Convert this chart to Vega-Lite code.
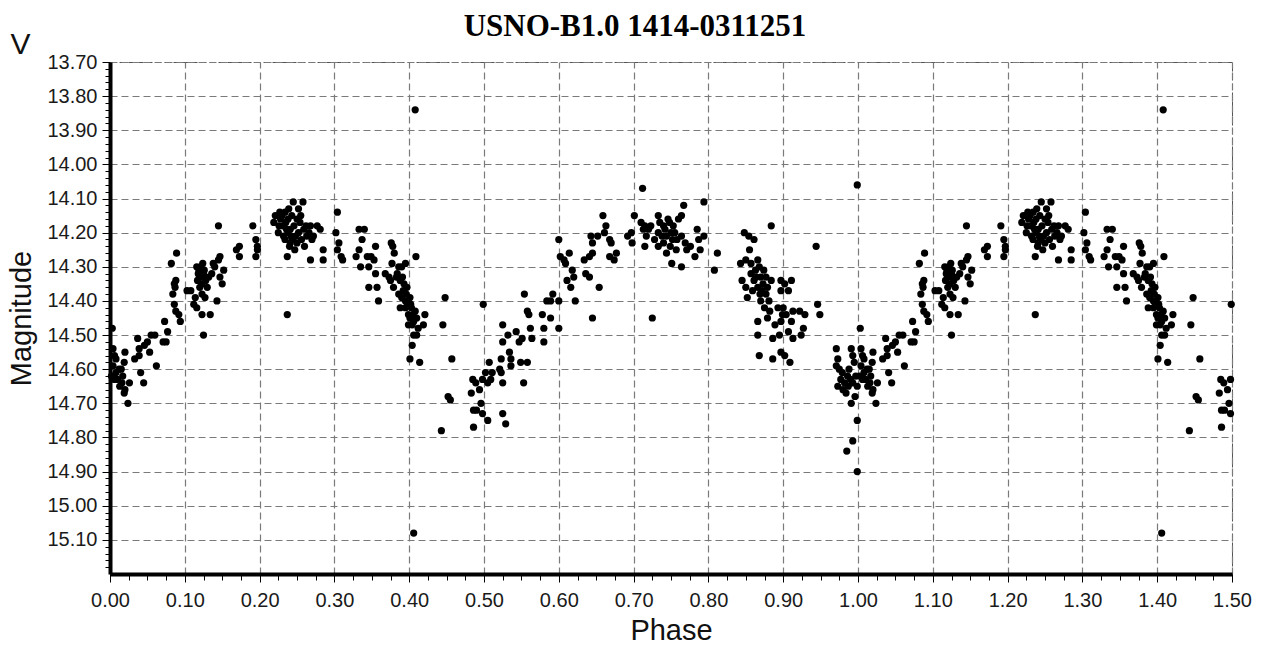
{
"$schema": "https://vega.github.io/schema/vega-lite/v6.json",
"width": 1122, "height": 512,
"autosize": {"type": "none"},
"padding": {"left": 110, "top": 62, "right": 30, "bottom": 74},
"background": "white",
"title": {"text": "USNO-B1.0 1414-0311251", "font": "Liberation Serif", "fontSize": 31, "fontWeight": "bold", "color": "#000", "anchor": "middle", "dx": -36, "dy": 22, "offset": 8},
"config": {"view": {"stroke": "#555", "strokeDash": [6, 3], "strokeWidth": 1}},
"datasets": {"pts": [
{"p":0.003,"m":14.48},{"p":0.004,"m":14.54},{"p":0.006,"m":14.56},{"p":0.004,"m":14.59},{"p":0.008,"m":14.61},{"p":0.006,"m":14.63},{"p":0.010,"m":14.63},{"p":0.015,"m":14.60},{"p":0.017,"m":14.62},{"p":0.019,"m":14.58},{"p":0.020,"m":14.55},{"p":0.020,"m":14.66},{"p":0.019,"m":14.67},{"p":0.024,"m":14.70},{"p":0.013,"m":14.65},{"p":0.026,"m":14.64},{"p":0.033,"m":14.57},{"p":0.037,"m":14.51},{"p":0.039,"m":14.54},{"p":0.039,"m":14.56},{"p":0.041,"m":14.61},{"p":0.045,"m":14.64},{"p":0.046,"m":14.53},{"p":0.050,"m":14.52},{"p":0.053,"m":14.55},{"p":0.055,"m":14.50},{"p":0.060,"m":14.50},{"p":0.062,"m":14.59},{"p":0.071,"m":14.52},{"p":0.075,"m":14.52},{"p":0.073,"m":14.46},{"p":0.077,"m":14.49},{"p":0.082,"m":14.29},{"p":0.089,"m":14.26},{"p":0.084,"m":14.38},{"p":0.086,"m":14.35},{"p":0.088,"m":14.34},{"p":0.086,"m":14.41},{"p":0.088,"m":14.43},{"p":0.092,"m":14.44},{"p":0.094,"m":14.46},{"p":0.087,"m":14.36},{"p":0.008,"m":14.57},{"p":0.012,"m":14.60},{"p":0.016,"m":14.64},{"p":0.002,"m":14.62},
{"p":0.103,"m":14.37},{"p":0.108,"m":14.37},{"p":0.112,"m":14.41},{"p":0.114,"m":14.39},{"p":0.119,"m":14.31},{"p":0.121,"m":14.33},{"p":0.123,"m":14.35},{"p":0.117,"m":14.34},{"p":0.125,"m":14.32},{"p":0.128,"m":14.34},{"p":0.123,"m":14.38},{"p":0.123,"m":14.44},{"p":0.125,"m":14.50},{"p":0.134,"m":14.44},{"p":0.132,"m":14.33},{"p":0.136,"m":14.32},{"p":0.138,"m":14.29},{"p":0.140,"m":14.30},{"p":0.145,"m":14.28},{"p":0.147,"m":14.27},{"p":0.145,"m":14.18},{"p":0.150,"m":14.35},{"p":0.147,"m":14.33},{"p":0.143,"m":14.40},{"p":0.152,"m":14.31},{"p":0.118,"m":14.32},{"p":0.121,"m":14.30},{"p":0.126,"m":14.31},{"p":0.120,"m":14.36},{"p":0.116,"m":14.42},{"p":0.116,"m":14.30},{"p":0.124,"m":14.29},{"p":0.130,"m":14.36},{"p":0.127,"m":14.39},{"p":0.169,"m":14.25},{"p":0.173,"m":14.24},{"p":0.173,"m":14.27},{"p":0.191,"m":14.18},{"p":0.195,"m":14.22},{"p":0.197,"m":14.24},{"p":0.195,"m":14.27},{"p":0.197,"m":14.25},
{"p":0.221,"m":14.15},{"p":0.219,"m":14.17},{"p":0.227,"m":14.14},{"p":0.234,"m":14.14},{"p":0.245,"m":14.11},{"p":0.258,"m":14.11},{"p":0.252,"m":14.13},{"p":0.225,"m":14.20},{"p":0.231,"m":14.18},{"p":0.238,"m":14.16},{"p":0.241,"m":14.19},{"p":0.234,"m":14.22},{"p":0.241,"m":14.23},{"p":0.237,"m":14.27},{"p":0.248,"m":14.21},{"p":0.254,"m":14.17},{"p":0.259,"m":14.19},{"p":0.263,"m":14.21},{"p":0.268,"m":14.18},{"p":0.270,"m":14.22},{"p":0.250,"m":14.23},{"p":0.277,"m":14.18},{"p":0.281,"m":14.19},{"p":0.268,"m":14.28},{"p":0.285,"m":14.25},{"p":0.285,"m":14.28},{"p":0.237,"m":14.44},{"p":0.228,"m":14.16},{"p":0.235,"m":14.17},{"p":0.243,"m":14.15},{"p":0.246,"m":14.18},{"p":0.250,"m":14.16},{"p":0.238,"m":14.20},{"p":0.244,"m":14.22},{"p":0.252,"m":14.20},{"p":0.256,"m":14.22},{"p":0.232,"m":14.21},{"p":0.240,"m":14.24},{"p":0.247,"m":14.25},{"p":0.262,"m":14.18},{"p":0.266,"m":14.20},{"p":0.272,"m":14.21},{"p":0.226,"m":14.18},{"p":0.236,"m":14.19},{"p":0.242,"m":14.21},{"p":0.230,"m":14.15},{"p":0.255,"m":14.15},{"p":0.260,"m":14.24},{"p":0.239,"m":14.13},
{"p":0.304,"m":14.14},{"p":0.302,"m":14.20},{"p":0.306,"m":14.23},{"p":0.304,"m":14.25},{"p":0.309,"m":14.27},{"p":0.311,"m":14.28},{"p":0.333,"m":14.19},{"p":0.340,"m":14.19},{"p":0.337,"m":14.22},{"p":0.329,"m":14.27},{"p":0.333,"m":14.25},{"p":0.335,"m":14.30},{"p":0.344,"m":14.27},{"p":0.349,"m":14.27},{"p":0.353,"m":14.28},{"p":0.355,"m":14.24},{"p":0.346,"m":14.30},{"p":0.355,"m":14.32},{"p":0.346,"m":14.36},{"p":0.357,"m":14.36},{"p":0.359,"m":14.40},{"p":0.376,"m":14.23},{"p":0.378,"m":14.24},{"p":0.380,"m":14.26},{"p":0.368,"m":14.32},{"p":0.373,"m":14.33},{"p":0.375,"m":14.34},{"p":0.379,"m":14.36},{"p":0.386,"m":14.30},{"p":0.390,"m":14.30},{"p":0.395,"m":14.29},{"p":0.409,"m":14.27},{"p":0.388,"m":14.34},{"p":0.393,"m":14.35},{"p":0.386,"m":14.38},{"p":0.390,"m":14.39},{"p":0.395,"m":14.40},{"p":0.401,"m":14.39},{"p":0.388,"m":14.42},{"p":0.395,"m":14.42},{"p":0.403,"m":14.42},{"p":0.401,"m":14.45},{"p":0.406,"m":14.46},{"p":0.410,"m":14.45},{"p":0.404,"m":14.47},{"p":0.412,"m":14.48},{"p":0.421,"m":14.44},{"p":0.419,"m":14.47},{"p":0.406,"m":14.50},{"p":0.404,"m":14.53},{"p":0.401,"m":14.57},{"p":0.414,"m":14.58},{"p":0.383,"m":14.33},{"p":0.392,"m":14.37},{"p":0.398,"m":14.41},{"p":0.399,"m":14.44},{"p":0.408,"m":14.43},{"p":0.397,"m":14.36},{"p":0.377,"m":14.29},{"p":0.384,"m":14.32},{"p":0.391,"m":14.33},{"p":0.396,"m":14.38},{"p":0.402,"m":14.41},{"p":0.405,"m":14.44},{"p":0.399,"m":14.47},{"p":0.410,"m":14.50},{"p":0.408,"m":13.84},{"p":0.406,"m":15.08},
{"p":0.448,"m":14.39},{"p":0.445,"m":14.47},{"p":0.457,"m":14.57},{"p":0.452,"m":14.68},{"p":0.455,"m":14.69},{"p":0.443,"m":14.78},{"p":0.499,"m":14.41},{"p":0.485,"m":14.63},{"p":0.489,"m":14.64},{"p":0.483,"m":14.67},{"p":0.494,"m":14.66},{"p":0.486,"m":14.72},{"p":0.490,"m":14.72},{"p":0.496,"m":14.70},{"p":0.498,"m":14.73},{"p":0.486,"m":14.77},{"p":0.498,"m":14.63},
{"p":0.505,"m":14.75},{"p":0.502,"m":14.61},{"p":0.507,"m":14.58},{"p":0.509,"m":14.63},{"p":0.505,"m":14.64},{"p":0.511,"m":14.61},{"p":0.521,"m":14.60},{"p":0.523,"m":14.61},{"p":0.525,"m":14.64},{"p":0.525,"m":14.73},{"p":0.529,"m":14.76},{"p":0.523,"m":14.57},{"p":0.525,"m":14.52},{"p":0.525,"m":14.47},{"p":0.532,"m":14.50},{"p":0.534,"m":14.55},{"p":0.536,"m":14.57},{"p":0.536,"m":14.59},{"p":0.543,"m":14.49},{"p":0.547,"m":14.52},{"p":0.551,"m":14.51},{"p":0.549,"m":14.58},{"p":0.558,"m":14.58},{"p":0.553,"m":14.64},{"p":0.554,"m":14.38},{"p":0.558,"m":14.43},{"p":0.560,"m":14.44},{"p":0.562,"m":14.48},{"p":0.564,"m":14.51},{"p":0.578,"m":14.44},{"p":0.580,"m":14.48},{"p":0.580,"m":14.52},{"p":0.584,"m":14.40},{"p":0.589,"m":14.40},{"p":0.589,"m":14.45},{"p":0.592,"m":14.38},
{"p":0.600,"m":14.22},{"p":0.602,"m":14.27},{"p":0.607,"m":14.28},{"p":0.614,"m":14.26},{"p":0.609,"m":14.29},{"p":0.618,"m":14.31},{"p":0.611,"m":14.34},{"p":0.616,"m":14.36},{"p":0.620,"m":14.33},{"p":0.600,"m":14.40},{"p":0.622,"m":14.40},{"p":0.600,"m":14.48},{"p":0.634,"m":14.28},{"p":0.641,"m":14.27},{"p":0.645,"m":14.26},{"p":0.636,"m":14.32},{"p":0.641,"m":14.33},{"p":0.654,"m":14.36},{"p":0.645,"m":14.45},{"p":0.643,"m":14.21},{"p":0.645,"m":14.23},{"p":0.652,"m":14.21},{"p":0.659,"m":14.15},{"p":0.661,"m":14.20},{"p":0.663,"m":14.18},{"p":0.668,"m":14.22},{"p":0.670,"m":14.23},{"p":0.668,"m":14.27},{"p":0.674,"m":14.28},{"p":0.677,"m":14.26},
{"p":0.692,"m":14.21},{"p":0.697,"m":14.20},{"p":0.698,"m":14.23},{"p":0.701,"m":14.15},{"p":0.712,"m":14.07},{"p":0.710,"m":14.17},{"p":0.713,"m":14.19},{"p":0.715,"m":14.18},{"p":0.717,"m":14.21},{"p":0.715,"m":14.24},{"p":0.725,"m":14.45},{"p":0.733,"m":14.15},{"p":0.735,"m":14.17},{"p":0.733,"m":14.20},{"p":0.740,"m":14.18},{"p":0.742,"m":14.19},{"p":0.744,"m":14.21},{"p":0.733,"m":14.24},{"p":0.740,"m":14.23},{"p":0.744,"m":14.26},{"p":0.749,"m":14.24},{"p":0.751,"m":14.29},{"p":0.746,"m":14.16},{"p":0.753,"m":14.18},{"p":0.755,"m":14.20},{"p":0.760,"m":14.16},{"p":0.764,"m":14.15},{"p":0.758,"m":14.22},{"p":0.764,"m":14.21},{"p":0.767,"m":14.12},{"p":0.764,"m":14.30},{"p":0.769,"m":14.23},{"p":0.771,"m":14.25},{"p":0.776,"m":14.24},{"p":0.782,"m":14.27},{"p":0.785,"m":14.19},{"p":0.787,"m":14.22},{"p":0.789,"m":14.25},{"p":0.794,"m":14.11},{"p":0.794,"m":14.21},{"p":0.720,"m":14.19},{"p":0.728,"m":14.22},{"p":0.750,"m":14.20},{"p":0.757,"m":14.25},{"p":0.738,"m":14.21},{"p":0.723,"m":14.18},{"p":0.748,"m":14.17},{"p":0.752,"m":14.22},
{"p":0.812,"m":14.26},{"p":0.808,"m":14.31},{"p":0.884,"m":14.18},{"p":0.848,"m":14.20},{"p":0.854,"m":14.21},{"p":0.861,"m":14.22},{"p":0.843,"m":14.29},{"p":0.850,"m":14.28},{"p":0.857,"m":14.29},{"p":0.866,"m":14.28},{"p":0.868,"m":14.30},{"p":0.845,"m":14.34},{"p":0.850,"m":14.36},{"p":0.857,"m":14.32},{"p":0.861,"m":14.34},{"p":0.870,"m":14.33},{"p":0.877,"m":14.33},{"p":0.866,"m":14.36},{"p":0.872,"m":14.37},{"p":0.879,"m":14.36},{"p":0.884,"m":14.34},{"p":0.852,"m":14.39},{"p":0.870,"m":14.40},{"p":0.875,"m":14.42},{"p":0.879,"m":14.45},{"p":0.877,"m":14.38},{"p":0.897,"m":14.34},{"p":0.897,"m":14.37},{"p":0.899,"m":14.44},{"p":0.897,"m":14.46},{"p":0.866,"m":14.46},{"p":0.866,"m":14.50},{"p":0.886,"m":14.51},{"p":0.895,"m":14.50},{"p":0.868,"m":14.56},{"p":0.886,"m":14.57},{"p":0.897,"m":14.55},{"p":0.863,"m":14.31},{"p":0.873,"m":14.35},{"p":0.859,"m":14.37},{"p":0.881,"m":14.40},{"p":0.855,"m":14.25},{"p":0.864,"m":14.33},{"p":0.869,"m":14.38},{"p":0.874,"m":14.31},{"p":0.882,"m":14.43},{"p":0.889,"m":14.47},{"p":0.893,"m":14.42},
{"p":0.902,"m":14.35},{"p":0.911,"m":14.34},{"p":0.907,"m":14.37},{"p":0.900,"m":14.42},{"p":0.904,"m":14.44},{"p":0.913,"m":14.43},{"p":0.922,"m":14.43},{"p":0.929,"m":14.44},{"p":0.911,"m":14.46},{"p":0.907,"m":14.49},{"p":0.913,"m":14.51},{"p":0.927,"m":14.48},{"p":0.924,"m":14.50},{"p":0.902,"m":14.56},{"p":0.909,"m":14.58},{"p":0.944,"m":14.24},{"p":0.946,"m":14.41},{"p":0.949,"m":14.44},{"p":0.999,"m":14.06},{"p":0.971,"m":14.54},{"p":0.973,"m":14.57},{"p":0.971,"m":14.59},{"p":0.975,"m":14.60},{"p":0.973,"m":14.65},{"p":0.977,"m":14.63},{"p":0.980,"m":14.66},{"p":0.984,"m":14.67},{"p":0.986,"m":14.62},{"p":0.988,"m":14.60},{"p":0.991,"m":14.54},{"p":0.993,"m":14.56},{"p":0.995,"m":14.58},{"p":0.982,"m":14.64},{"p":0.991,"m":14.70},{"p":0.999,"m":14.75},{"p":0.993,"m":14.81},{"p":0.985,"m":14.84},{"p":0.999,"m":14.90},{"p":0.993,"m":14.64},{"p":0.997,"m":14.62},{"p":0.999,"m":14.65},{"p":0.979,"m":14.61},{"p":0.987,"m":14.65},{"p":0.996,"m":14.68},{"p":0.990,"m":14.63},
{"p":1.003,"m":14.48},{"p":1.004,"m":14.54},{"p":1.006,"m":14.56},{"p":1.004,"m":14.59},{"p":1.008,"m":14.61},{"p":1.006,"m":14.63},{"p":1.010,"m":14.63},{"p":1.015,"m":14.60},{"p":1.017,"m":14.62},{"p":1.019,"m":14.58},{"p":1.020,"m":14.55},{"p":1.020,"m":14.66},{"p":1.019,"m":14.67},{"p":1.024,"m":14.70},{"p":1.013,"m":14.65},{"p":1.026,"m":14.64},{"p":1.033,"m":14.57},{"p":1.037,"m":14.51},{"p":1.039,"m":14.54},{"p":1.039,"m":14.56},{"p":1.041,"m":14.61},{"p":1.045,"m":14.64},{"p":1.046,"m":14.53},{"p":1.050,"m":14.52},{"p":1.053,"m":14.55},{"p":1.055,"m":14.50},{"p":1.060,"m":14.50},{"p":1.062,"m":14.59},{"p":1.071,"m":14.52},{"p":1.075,"m":14.52},{"p":1.073,"m":14.46},{"p":1.077,"m":14.49},{"p":1.082,"m":14.29},{"p":1.089,"m":14.26},{"p":1.084,"m":14.38},{"p":1.086,"m":14.35},{"p":1.088,"m":14.34},{"p":1.086,"m":14.41},{"p":1.088,"m":14.43},{"p":1.092,"m":14.44},{"p":1.094,"m":14.46},{"p":1.087,"m":14.36},{"p":1.008,"m":14.57},{"p":1.012,"m":14.60},{"p":1.016,"m":14.64},{"p":1.002,"m":14.62},
{"p":1.103,"m":14.37},{"p":1.108,"m":14.37},{"p":1.112,"m":14.41},{"p":1.114,"m":14.39},{"p":1.119,"m":14.31},{"p":1.121,"m":14.33},{"p":1.123,"m":14.35},{"p":1.117,"m":14.34},{"p":1.125,"m":14.32},{"p":1.128,"m":14.34},{"p":1.123,"m":14.38},{"p":1.123,"m":14.44},{"p":1.125,"m":14.50},{"p":1.134,"m":14.44},{"p":1.132,"m":14.33},{"p":1.136,"m":14.32},{"p":1.138,"m":14.29},{"p":1.140,"m":14.30},{"p":1.145,"m":14.28},{"p":1.147,"m":14.27},{"p":1.145,"m":14.18},{"p":1.150,"m":14.35},{"p":1.147,"m":14.33},{"p":1.143,"m":14.40},{"p":1.152,"m":14.31},{"p":1.118,"m":14.32},{"p":1.121,"m":14.30},{"p":1.126,"m":14.31},{"p":1.120,"m":14.36},{"p":1.116,"m":14.42},{"p":1.116,"m":14.30},{"p":1.124,"m":14.29},{"p":1.130,"m":14.36},{"p":1.127,"m":14.39},{"p":1.169,"m":14.25},{"p":1.173,"m":14.24},{"p":1.173,"m":14.27},{"p":1.191,"m":14.18},{"p":1.195,"m":14.22},{"p":1.197,"m":14.24},{"p":1.195,"m":14.27},{"p":1.197,"m":14.25},
{"p":1.221,"m":14.15},{"p":1.219,"m":14.17},{"p":1.227,"m":14.14},{"p":1.234,"m":14.14},{"p":1.245,"m":14.11},{"p":1.258,"m":14.11},{"p":1.252,"m":14.13},{"p":1.225,"m":14.20},{"p":1.231,"m":14.18},{"p":1.238,"m":14.16},{"p":1.241,"m":14.19},{"p":1.234,"m":14.22},{"p":1.241,"m":14.23},{"p":1.237,"m":14.27},{"p":1.248,"m":14.21},{"p":1.254,"m":14.17},{"p":1.259,"m":14.19},{"p":1.263,"m":14.21},{"p":1.268,"m":14.18},{"p":1.270,"m":14.22},{"p":1.250,"m":14.23},{"p":1.277,"m":14.18},{"p":1.281,"m":14.19},{"p":1.268,"m":14.28},{"p":1.285,"m":14.25},{"p":1.285,"m":14.28},{"p":1.237,"m":14.44},{"p":1.228,"m":14.16},{"p":1.235,"m":14.17},{"p":1.243,"m":14.15},{"p":1.246,"m":14.18},{"p":1.250,"m":14.16},{"p":1.238,"m":14.20},{"p":1.244,"m":14.22},{"p":1.252,"m":14.20},{"p":1.256,"m":14.22},{"p":1.232,"m":14.21},{"p":1.240,"m":14.24},{"p":1.247,"m":14.25},{"p":1.262,"m":14.18},{"p":1.266,"m":14.20},{"p":1.272,"m":14.21},{"p":1.226,"m":14.18},{"p":1.236,"m":14.19},{"p":1.242,"m":14.21},{"p":1.230,"m":14.15},{"p":1.255,"m":14.15},{"p":1.260,"m":14.24},{"p":1.239,"m":14.13},
{"p":1.304,"m":14.14},{"p":1.302,"m":14.20},{"p":1.306,"m":14.23},{"p":1.304,"m":14.25},{"p":1.309,"m":14.27},{"p":1.311,"m":14.28},{"p":1.333,"m":14.19},{"p":1.340,"m":14.19},{"p":1.337,"m":14.22},{"p":1.329,"m":14.27},{"p":1.333,"m":14.25},{"p":1.335,"m":14.30},{"p":1.344,"m":14.27},{"p":1.349,"m":14.27},{"p":1.353,"m":14.28},{"p":1.355,"m":14.24},{"p":1.346,"m":14.30},{"p":1.355,"m":14.32},{"p":1.346,"m":14.36},{"p":1.357,"m":14.36},{"p":1.359,"m":14.40},{"p":1.376,"m":14.23},{"p":1.378,"m":14.24},{"p":1.380,"m":14.26},{"p":1.368,"m":14.32},{"p":1.373,"m":14.33},{"p":1.375,"m":14.34},{"p":1.379,"m":14.36},{"p":1.386,"m":14.30},{"p":1.390,"m":14.30},{"p":1.395,"m":14.29},{"p":1.409,"m":14.27},{"p":1.388,"m":14.34},{"p":1.393,"m":14.35},{"p":1.386,"m":14.38},{"p":1.390,"m":14.39},{"p":1.395,"m":14.40},{"p":1.401,"m":14.39},{"p":1.388,"m":14.42},{"p":1.395,"m":14.42},{"p":1.403,"m":14.42},{"p":1.401,"m":14.45},{"p":1.406,"m":14.46},{"p":1.410,"m":14.45},{"p":1.404,"m":14.47},{"p":1.412,"m":14.48},{"p":1.421,"m":14.44},{"p":1.419,"m":14.47},{"p":1.406,"m":14.50},{"p":1.404,"m":14.53},{"p":1.401,"m":14.57},{"p":1.414,"m":14.58},{"p":1.383,"m":14.33},{"p":1.392,"m":14.37},{"p":1.398,"m":14.41},{"p":1.399,"m":14.44},{"p":1.408,"m":14.43},{"p":1.397,"m":14.36},{"p":1.377,"m":14.29},{"p":1.384,"m":14.32},{"p":1.391,"m":14.33},{"p":1.396,"m":14.38},{"p":1.402,"m":14.41},{"p":1.405,"m":14.44},{"p":1.399,"m":14.47},{"p":1.410,"m":14.50},{"p":1.408,"m":13.84},{"p":1.406,"m":15.08},
{"p":1.448,"m":14.39},{"p":1.445,"m":14.47},{"p":1.457,"m":14.57},{"p":1.452,"m":14.68},{"p":1.455,"m":14.69},{"p":1.443,"m":14.78},{"p":1.499,"m":14.41},{"p":1.485,"m":14.63},{"p":1.489,"m":14.64},{"p":1.483,"m":14.67},{"p":1.494,"m":14.66},{"p":1.486,"m":14.72},{"p":1.490,"m":14.72},{"p":1.496,"m":14.70},{"p":1.498,"m":14.73},{"p":1.486,"m":14.77},{"p":1.498,"m":14.63}
]},
"layer": [
{"data": {"name": "pts"},
 "mark": {"type": "point", "filled": true, "shape": "circle", "size": 52, "color": "#000", "opacity": 1},
 "encoding": {
  "x": {"field": "p", "type": "quantitative",
        "scale": {"domain": [0, 1.5], "nice": false, "zero": false},
        "axis": {"orient": "bottom", "values": [0,0.1,0.2,0.3,0.4,0.5,0.6,0.7,0.8,0.9,1.0,1.1,1.2,1.3,1.4,1.5], "format": ".2f",
                 "labelFont": "Liberation Sans", "labelFontSize": 20, "labelColor": "#1a1a1a", "labelPadding": 8, "labelFlush": false, "labelOverlap": false,
                 "tickSize": 8, "tickColor": "#000", "tickWidth": 1,
                 "domainColor": "#000", "domainWidth": 4,
                 "grid": true, "gridColor": "#7a7a7a", "gridDash": [7, 4], "gridWidth": 1.2,
                 "title": "Phase", "titleFont": "Liberation Sans", "titleFontSize": 29, "titleFontWeight": "normal", "titleColor": "#111", "titlePadding": 6}},
  "y": {"field": "m", "type": "quantitative",
        "scale": {"domain": [13.7, 15.2], "reverse": true, "nice": false, "zero": false},
        "axis": {"orient": "left", "values": [13.7,13.8,13.9,14.0,14.1,14.2,14.3,14.4,14.5,14.6,14.7,14.8,14.9,15.0,15.1], "format": ".2f",
                 "labelFont": "Liberation Sans", "labelFontSize": 20, "labelColor": "#1a1a1a", "labelPadding": 5, "labelFlush": false, "labelOverlap": false,
                 "tickSize": 8, "tickColor": "#000", "tickWidth": 1,
                 "domainColor": "#000", "domainWidth": 4,
                 "grid": true, "gridColor": "#7a7a7a", "gridDash": [7, 4], "gridWidth": 1.2,
                 "title": "Magnitude", "titleFont": "Liberation Sans", "titleFontSize": 29, "titleFontWeight": "normal", "titleColor": "#111", "titlePadding": 10}}
 }},
{"data": {"values": []},
 "mark": {"type": "point"},
 "encoding": {
  "x": {"field": "p", "type": "quantitative",
        "axis": {"orient": "bottom", "values": [0.025,0.05,0.075,0.125,0.15,0.175,0.225,0.25,0.275,0.325,0.35,0.375,0.425,0.45,0.475,0.525,0.55,0.575,0.625,0.65,0.675,0.725,0.75,0.775,0.825,0.85,0.875,0.925,0.95,0.975,1.025,1.05,1.075,1.125,1.15,1.175,1.225,1.25,1.275,1.325,1.35,1.375,1.425,1.45,1.475],
                 "labels": false, "domain": false, "grid": false, "tickSize": 6, "tickColor": "#000", "tickWidth": 1, "title": null}},
  "y": {"field": "m", "type": "quantitative",
        "axis": {"orient": "left", "values": [13.72,13.74,13.76,13.78,13.82,13.84,13.86,13.88,13.92,13.94,13.96,13.98,14.02,14.04,14.06,14.08,14.12,14.14,14.16,14.18,14.22,14.24,14.26,14.28,14.32,14.34,14.36,14.38,14.42,14.44,14.46,14.48,14.52,14.54,14.56,14.58,14.62,14.64,14.66,14.68,14.72,14.74,14.76,14.78,14.82,14.84,14.86,14.88,14.92,14.94,14.96,14.98,15.02,15.04,15.06,15.08,15.12,15.14,15.16,15.18],
                 "labels": false, "domain": false, "grid": false, "tickSize": 5, "tickColor": "#000", "tickWidth": 1,
                 "title": "V", "titleAngle": 0, "titleX": -90, "titleY": -9, "titleAlign": "center", "titleBaseline": "alphabetic",
                 "titleFont": "Liberation Sans", "titleFontSize": 30, "titleFontWeight": "normal", "titleColor": "#111"}}
 }}
],
"resolve": {"axis": {"x": "independent", "y": "independent"}}
}
